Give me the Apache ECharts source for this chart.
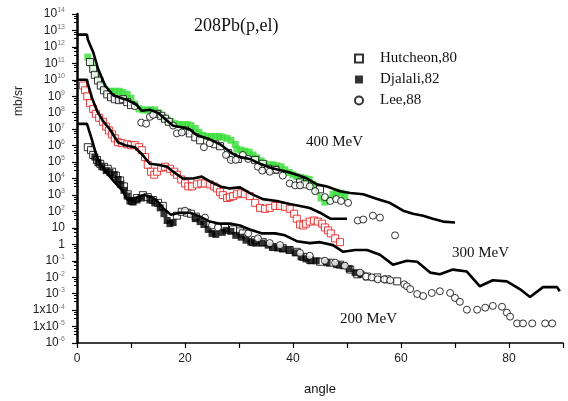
<!DOCTYPE html>
<html><head><meta charset="utf-8">
<script src="https://cdn.jsdelivr.net/npm/echarts@6/dist/echarts.min.js"></script>
<style>html,body{margin:0;padding:0;background:#fff}#c{width:568px;height:401px}</style>
</head><body><div id="c"></div>
<script>
// x tick labels (degrees)
const xTickLabels = [0, 20, 40, 60, 80];
// y decades shown (exponents of 10)
const yDecades = [-6,-5,-4,-3,-2,-1,0,1,2,3,4,5,6,7,8,9,10,11,12,13,14];

// theory curves [angle, mb/sr]
const theory400 = [[0,5.6e12],[1.85,5.6e12],[2.0,2.8e12],[3.0,4.8e11],[3.9,4.7e10],[5.2,4.5e9],[6.7,1.15e9],[8.3,7.6e8],[9.4,5.8e8],[11.1,2.9e8],[12.0,1.3e8],[13.5,1.5e8],[15.0,9.8e7],[16.7,3.2e7],[17.8,1.6e7],[19.6,1.25e7],[20.9,9.5e6],[22.2,4.2e6],[24.6,2.4e6],[26.5,1.2e6],[28.9,3.1e5],[30.2,2.0e5],[32.0,1.55e5],[33.9,7.8e4],[36.3,4.0e4],[38.9,2.6e4],[40.7,1.7e4],[42.6,1.0e4],[44.4,4.4e3],[46.3,3.3e3],[48.7,1.7e3],[50.6,1.3e3],[53.0,1.1e3],[55.6,5.6e2],[58.0,3.2e2],[60.4,1.1e2],[62.2,72],[64.1,55],[65.9,36],[67.8,24],[70.0,21]];
const theory300 = [[0,1.0e10],[1.85,1.0e10],[2.0,5.9e9],[2.8,7.6e8],[3.7,1.3e8],[4.8,3.2e7],[6.1,9.5e6],[7.6,1.6e6],[8.9,1.05e6],[10.7,8.0e5],[12.0,3.1e5],[13.5,7.8e4],[15.0,6.8e4],[16.7,5.2e4],[17.8,2.6e4],[19.6,1.0e4],[21.5,1.0e4],[23.1,1.3e4],[24.6,6.6e3],[26.5,3.3e3],[28.3,2.5e3],[30.2,2.9e3],[32.0,1.3e3],[34.4,5.6e2],[37.0,4.3e2],[39.4,2.8e2],[41.3,2.1e2],[43.1,1.6e2],[45.0,83],[46.9,36],[48.7,36],[50.0,36]];
const theory200 = [[0,2.1e7],[1.85,2.1e7],[2.0,1.6e7],[2.8,2.1e6],[3.5,3.1e5],[4.3,7.8e4],[5.6,2.0e4],[7.0,5.8e3],[8.5,1.7e3],[9.4,4.9e2],[10.9,6.5e2],[12.4,9.8e2],[13.9,7.4e2],[15.0,3.7e2],[16.1,1.4e2],[17.4,63],[19.1,83],[20.9,83],[22.8,48],[24.6,24],[26.5,18],[28.3,18],[30.2,14],[32.0,8.0],[34.3,4.6],[36.7,4.6],[38.5,3.5],[40.7,1.55],[43.1,1.18],[45.0,1.35],[47.4,0.89],[49.3,0.35],[51.5,0.45],[53.7,0.45],[56.1,0.23],[58.5,0.058],[61.1,0.10],[63.0,0.087],[65.4,0.019],[67.2,0.015],[69.6,0.029],[72.2,0.022],[74.6,0.0028],[77.0,0.0065],[79.6,0.0056],[82.0,0.0019],[83.9,6.3e-4],[86.3,0.0025],[88.9,0.0025],[89.4,0.0014]];

// 400 MeV data
const green400 = [[2.0,2.4e11],[2.6,1.06e11],[3.1,4.6e10],[3.7,2.0e10],[4.3,9.0e9],[4.8,3.9e9],[5.6,2.0e9],[6.3,2.0e9],[7.0,2.0e9],[7.8,2.0e9],[8.5,1.7e9],[9.3,1.3e9],[10.0,7.6e8],[10.7,3.3e8],[11.5,1.7e8],[12.2,1.47e8],[13.0,1.47e8],[13.7,1.47e8],[14.4,1.47e8],[15.2,9.7e7],[15.9,5.6e7],[16.7,3.7e7],[17.4,2.8e7],[18.1,2.15e7],[18.9,1.9e7],[19.6,1.9e7],[20.4,1.9e7],[21.1,1.64e7],[21.9,1.09e7],[22.6,6.3e6],[23.3,4.2e6],[24.1,3.6e6],[24.8,3.6e6],[25.6,3.6e6],[26.3,3.6e6],[27.0,3.2e6],[27.8,2.75e6],[28.5,2.1e6],[29.3,1.2e6],[29.6,6.1e5],[30.4,5.3e5],[31.1,4.6e5],[31.9,4.0e5],[32.6,2.7e5],[33.3,1.8e5],[34.1,1.18e5],[34.8,7.8e4],[35.6,6.8e4],[36.3,6.8e4],[37.0,5.9e4],[37.8,5.2e4],[38.5,3.4e4],[39.3,2.3e4],[40.0,1.7e4],[40.7,1.3e4],[41.5,1.15e4],[42.2,1.0e4],[43.0,8.7e3],[43.7,4.4e3],[44.4,1.7e3],[45.2,6.5e2],[45.9,3.7e2],[46.7,5.6e2],[47.4,1.1e3],[48.1,1.47e3],[48.9,1.28e3],[49.6,8.5e2]];
const hutcheon400 = [[2.4,1.2e11],[3.0,4.6e10],[3.3,2.0e10],[3.9,9.0e9],[4.4,4.5e9],[5.0,2.3e9],[5.6,1.3e9],[6.3,8.7e8],[7.0,6.6e8],[7.8,5.8e8],[8.5,6.6e8],[9.3,4.4e8],[10.0,2.9e8],[14.8,8.5e7],[15.6,6.5e7],[16.3,4.3e7],[17.0,2.8e7],[20.0,8.3e6],[20.9,5.5e6],[21.9,3.2e6],[22.8,2.1e6],[25.6,1.2e6],[26.5,9.2e5],[28.0,3.5e5],[28.9,2.0e5],[29.8,1.55e5],[33.0,1.35e5],[34.4,7.8e4],[35.4,3.9e4],[36.7,3.4e4],[41.3,5.8e3],[42.2,4.4e3],[45.0,2.2e3]];
const lee400 = [[10.7,2.5e8],[11.9,2.5e7],[12.8,2.15e7],[13.5,5.6e7],[14.1,7.4e7],[17.8,1.64e7],[18.5,5.5e6],[19.4,6.3e6],[23.5,8.0e5],[24.6,1.4e6],[27.6,2.7e5],[28.5,1.35e5],[29.4,1.35e5],[30.7,2.7e5],[31.7,1.55e5],[33.5,5.2e4],[34.3,3.0e4],[35.7,2.6e4],[36.9,3.4e4],[38.1,1.5e4],[39.4,5.0e3],[40.4,3.8e3],[41.3,3.8e3],[43.1,3.3e3],[44.1,1.7e3],[45.9,7.4e2],[46.9,4.3e2],[48.0,5.6e2],[48.9,4.3e2],[50.2,3.3e2],[52.0,28],[53.0,32],[54.8,55],[56.1,42],[58.9,3.5]];

// 300 MeV data
const red300 = [[1.1,4.5e9],[1.5,2.3e9],[1.9,1.0e9],[2.4,3.8e8],[3.0,1.7e8],[3.5,8.5e7],[4.1,4.9e7],[4.8,2.8e7],[5.4,1.43e7],[5.9,8.3e6],[6.5,4.8e6],[7.0,2.75e6],[7.6,1.6e6],[8.3,1.4e6],[9.3,1.2e6],[10.0,1.06e6],[10.7,1.06e6],[11.5,8.0e5],[12.0,5.3e5],[12.6,2.0e5],[13.1,6.8e4],[13.7,2.6e4],[14.3,1.7e4],[14.8,2.6e4],[15.6,4.5e4],[16.3,5.2e4],[17.2,3.9e4],[18.0,2.6e4],[18.5,1.7e4],[19.3,8.7e3],[20.0,5.0e3],[20.6,3.3e3],[21.3,3.3e3],[22.2,4.4e3],[23.0,5.0e3],[23.7,5.0e3],[24.6,4.4e3],[25.4,3.3e3],[25.9,2.5e3],[26.5,1.47e3],[27.0,9.7e2],[27.8,6.5e2],[28.3,7.4e2],[28.9,8.5e2],[29.6,1.1e3],[30.4,1.28e3],[31.1,1.1e3],[32.0,8.5e2],[33.0,3.3e2],[33.9,1.64e2],[34.8,1.43e2],[35.7,1.64e2],[36.7,2.15e2],[37.6,2.15e2],[38.5,1.9e2],[39.4,1.43e2],[40.2,72],[40.7,36],[41.3,16],[41.9,14],[42.4,18],[43.1,24],[43.9,28],[44.6,24],[45.4,18],[45.9,10.6],[46.5,7.0],[47.0,4.6],[47.8,2.3],[48.7,1.35]];

// 200 MeV data
const hutcheon200 = [[2.0,8.0e5],[2.6,5.3e5],[3.0,2.7e5],[3.7,1.35e5],[4.3,7.8e4],[5.0,5.2e4],[5.7,3.9e4],[6.5,2.6e4],[7.2,1.5e4],[8.0,7.6e3],[8.7,3.3e3],[9.4,1.1e3],[10.2,4.3e2],[11.1,6.5e2],[12.2,9.7e2],[13.1,7.4e2],[14.1,4.9e2],[15.0,3.3e2],[15.9,2.15e2],[18.5,55],[19.4,95],[20.4,83],[21.1,72],[22.0,48],[27.4,10.6],[28.9,8.0],[30.2,6.1],[30.7,4.6],[32.6,1.35],[33.0,1.78],[34.4,1.35],[36.3,0.68],[38.1,0.59],[39.4,0.45],[40.7,0.35],[41.9,0.173],[43.1,0.115],[45.0,0.087],[46.9,0.076],[48.7,0.058],[50.6,0.029],[51.9,0.015],[53.7,0.011],[55.6,0.0097],[57.4,0.0074],[59.3,0.0056]];
const djalali200 = [[3.3,2.0e5],[3.9,9.0e4],[4.6,5.2e4],[5.4,3.0e4],[6.1,2.3e4],[6.9,1.7e4],[7.6,8.7e3],[8.1,4.4e3],[8.7,1.9e3],[9.3,8.5e2],[9.8,4.3e2],[10.4,3.7e2],[11.1,4.9e2],[11.9,6.5e2],[13.5,4.9e2],[14.4,3.3e2],[15.4,1.64e2],[16.1,72],[16.7,28],[17.2,18],[17.8,21],[21.9,36],[22.8,24],[23.5,16],[24.3,8.0],[25.0,4.6],[25.7,4.0],[26.9,5.3],[27.6,7.0],[28.5,6.1],[29.4,3.5],[30.4,2.7],[31.3,1.78],[32.2,1.35],[33.1,1.18],[34.3,1.18],[35.4,0.89],[36.3,0.68],[37.2,0.59],[38.1,0.52],[39.3,0.45],[40.4,0.30],[41.5,0.173],[42.4,0.13],[43.3,0.10],[44.3,0.10],[46.3,0.076],[48.1,0.058],[49.3,0.050],[50.4,0.033],[51.5,0.019],[52.6,0.015]];
const lee200 = [[20.0,1.1e2],[23.7,42],[25.0,14],[26.1,10.6],[31.7,4.6],[33.5,2.3],[35.7,1.18],[37.6,0.89],[41.3,0.30],[43.1,0.20],[45.9,0.10],[47.8,0.076],[49.6,0.050],[52.4,0.019],[53.5,0.011],[54.6,0.0097],[55.7,0.0074],[56.9,0.0074],[58.0,0.0065],[60.6,0.0037],[61.1,0.0028],[61.7,0.0019],[63.0,9.5e-4],[64.1,7.2e-4],[65.7,1.1e-3],[67.2,1.4e-3],[69.1,1.1e-3],[70.0,5.5e-4],[70.9,3.2e-4],[72.2,1.06e-4],[74.1,1.06e-4],[75.6,1.4e-4],[77.0,1.8e-4],[78.7,1.6e-4],[79.6,7.0e-5],[80.2,4.0e-5],[81.5,1.55e-5],[82.6,1.55e-5],[84.3,1.55e-5],[86.7,1.55e-5],[88.0,1.55e-5]];

const energyLabels = ['400 MeV', '300 MeV', '200 MeV'];
const legendNames = ['Hutcheon,80', 'Djalali,82', 'Lee,88'];

const serif = '"Liberation Serif","Times New Roman",serif';
const sans = '"Liberation Sans",Arial,sans-serif';

const hollowSq = {color:'#fff', borderColor:'#000', borderWidth:1};
const hollowCirc = {color:'#fff', borderColor:'#000', borderWidth:1};

function yLabel(v){
  const e = Math.round(Math.log10(v));
  if (yDecades.indexOf(e) < 0) return '';
  if (e === 1) return '{b|10}';
  if (e === 0) return '{b|1}';
  if (e === -4 || e === -5) return '{b|1x10}{s|' + e + '}';
  return '{b|10}{s|' + e + '}';
}

const chart = echarts.init(document.getElementById('c'), null, {renderer:'canvas'});
const scatterBase = {type:'scatter', symbolSize:7, z:2, animation:false};
const lineBase = {type:'line', showSymbol:false, symbol:'none', z:3, animation:false, lineStyle:{color:'#000', width:2.6}, itemStyle:{color:'#000'}};
chart.setOption({
  animation:false,
  backgroundColor:'#fff',
  title:{text:'208Pb(p,el)', left:194, top:17, padding:0, textStyle:{fontFamily:serif, fontSize:18, fontWeight:'normal', color:'#111'}},
  legend:{orient:'vertical', left:349, top:46, itemWidth:8, itemHeight:8, itemGap:6,
    textStyle:{fontFamily:serif, fontSize:15, color:'#111', padding:[0,0,0,12]},
    data:[{name:legendNames[0], icon:'rect'},{name:legendNames[1], icon:'rect'},{name:legendNames[2], icon:'circle'}]},
  grid:{left:77, right:5, top:14, bottom:51, containLabel:false},
  xAxis:{type:'value', min:0, max:90, interval:10,
    name:'angle', nameLocation:'middle', nameGap:40,
    nameTextStyle:{fontFamily:sans, fontSize:13, color:'#111'},
    axisLine:{lineStyle:{color:'#000', width:1.5}},
    axisTick:{show:true, length:5, lineStyle:{color:'#000', width:1.2}},
    splitLine:{show:false},
    axisLabel:{fontFamily:sans, fontSize:12, color:'#222', margin:10,
      formatter:v => xTickLabels.indexOf(v) >= 0 ? String(v) : ''}},
  yAxis:{type:'log', logBase:10, min:1e-6, max:1e14, interval:1, splitNumber:20,
    axisLine:{show:true, lineStyle:{color:'#000', width:2.5}},
    axisTick:{show:true, length:5, interval:0, lineStyle:{color:'#000', width:1.2}},
    minorTick:{show:true, splitNumber:4, length:3, lineStyle:{color:'#000', width:1}},
    splitLine:{show:false},
    axisLabel:{margin:12, interval:0, hideOverlap:false, formatter:yLabel,
      rich:{b:{fontFamily:sans, fontSize:12, color:'#222', lineHeight:14},
            s:{fontFamily:sans, fontSize:7, color:'#777', verticalAlign:'top', lineHeight:8}}}},
  graphic:[
    {type:'text', left:13, top:86, rotation:Math.PI/2, style:{text:'mb/sr', font:'12px '+sans, fill:'#222'}},
    {type:'text', left:306, top:135, style:{text:energyLabels[0], font:'15px '+serif, fill:'#111'}},
    {type:'text', left:452, top:246, style:{text:energyLabels[1], font:'15px '+serif, fill:'#111'}},
    {type:'text', left:340, top:312, style:{text:energyLabels[2], font:'15px '+serif, fill:'#111'}}
  ],
  series:[
    Object.assign({}, scatterBase, {name:'green400', data:green400, symbol:'rect', symbolSize:7, z:1, itemStyle:{color:'#38dd38'}}),
    Object.assign({}, scatterBase, {name:legendNames[0], data:hutcheon400, symbol:'rect', itemStyle:hollowSq}),
    Object.assign({}, scatterBase, {name:legendNames[2], data:lee400, symbol:'circle', itemStyle:hollowCirc}),
    Object.assign({}, scatterBase, {name:'red300', data:red300, symbol:'rect', itemStyle:{color:'#fff', borderColor:'#e01010', borderWidth:1}}),
    Object.assign({}, scatterBase, {name:legendNames[0], data:hutcheon200, symbol:'rect', itemStyle:hollowSq}),
    Object.assign({}, scatterBase, {name:legendNames[1], data:djalali200, symbol:'rect', itemStyle:{color:'#000'}}),
    Object.assign({}, scatterBase, {name:legendNames[2], data:lee200, symbol:'circle', itemStyle:hollowCirc}),
    Object.assign({}, lineBase, {name:'theory400', data:theory400}),
    Object.assign({}, lineBase, {name:'theory300', data:theory300}),
    Object.assign({}, lineBase, {name:'theory200', data:theory200})
  ]
});
</script></body></html>
